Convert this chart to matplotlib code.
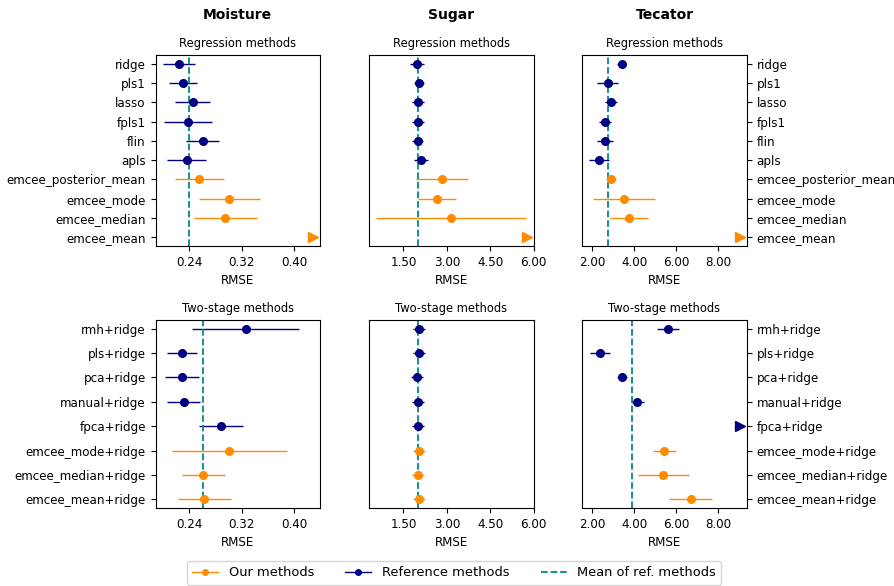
import numpy as np
import matplotlib
matplotlib.use("Agg")
import matplotlib.pyplot as plt
from matplotlib.lines import Line2D

# method names, top to bottom
reg_methods = ["ridge", "pls1", "lasso", "fpls1", "flin", "apls",
               "emcee_posterior_mean", "emcee_mode", "emcee_median", "emcee_mean"]
reg_is_ours = [False] * 6 + [True] * 4

two_methods = ["rmh+ridge", "pls+ridge", "pca+ridge", "manual+ridge", "fpca+ridge",
               "emcee_mode+ridge", "emcee_median+ridge", "emcee_mean+ridge"]
two_is_ours = [False] * 5 + [True] * 3

# RMSE (mean, std) per dataset; inf = off the scale
moisture_reg_rmse = [0.2234, 0.2306, 0.2453, 0.2377, 0.2600, 0.2356, 0.2554, 0.3011, 0.2950, np.inf]
moisture_reg_std = [0.0246, 0.0215, 0.0267, 0.0373, 0.0250, 0.0300, 0.0370, 0.0470, 0.0480, 0.0]
sugar_reg_rmse = [1.964, 2.044, 1.998, 1.998, 1.998, 2.090, 2.816, 2.657, 3.141, np.inf]
sugar_reg_std = [0.25, 0.17, 0.21, 0.22, 0.19, 0.24, 0.90, 0.67, 2.59, 0.0]
tecator_reg_rmse = [3.40, 2.73, 2.89, 2.60, 2.60, 2.32, 2.90, 3.51, 3.73, np.inf]
tecator_reg_std = [0.22, 0.49, 0.28, 0.28, 0.36, 0.48, 0.24, 1.49, 0.90, 0.0]

moisture_two_rmse = [0.3260, 0.2284, 0.2284, 0.2309, 0.2883, 0.3010, 0.2613, 0.2629]
moisture_two_std = [0.0820, 0.0230, 0.0260, 0.0250, 0.0340, 0.0880, 0.0325, 0.0410]
sugar_two_rmse = [2.04, 2.04, 1.96, 2.00, 2.00, 2.04, 2.00, 2.04]
sugar_two_std = [0.20, 0.20, 0.20, 0.20, 0.20, 0.20, 0.20, 0.20]
tecator_two_rmse = [5.59, 2.38, 3.40, 4.14, np.inf, 5.43, 5.38, 6.68]
tecator_two_std = [0.51, 0.48, 0.24, 0.30, 0.0, 0.55, 1.20, 1.03]

datasets = ["Moisture", "Sugar", "Tecator"]
xlims = {"Moisture": (0.188, 0.44), "Sugar": (0.32, 6.0), "Tecator": (1.52, 9.35)}
xticks = {"Moisture": [0.24, 0.32, 0.40], "Sugar": [1.5, 3.0, 4.5, 6.0], "Tecator": [2, 4, 6, 8]}

OURS = "darkorange"
REF = "navy"
MEANC = "darkcyan"
FS = 8.6

plt.rcParams["font.size"] = FS


def draw_panel(ax, methods, is_ours, rmse, std, name, title, side):
    rmse = np.asarray(rmse, dtype=float)
    std = np.asarray(std, dtype=float)
    lo, hi = xlims[name]
    y = np.arange(len(methods))
    for i in range(len(methods)):
        c = OURS if is_ours[i] else REF
        if np.isfinite(rmse[i]) and rmse[i] <= hi:
            ax.errorbar(rmse[i], y[i], xerr=std[i], fmt="o", color=c, ms=5.5, lw=1)
        else:
            # off the scale: arrow at the right edge
            ax.plot(hi - 0.04 * (hi - lo), y[i], ">", color=c, ms=6.5, clip_on=False)
    ref = rmse[~np.array(is_ours) & np.isfinite(rmse)]
    ax.axvline(ref.mean(), color=MEANC, ls="--", lw=1.3)
    ax.set_xlim(lo, hi)
    ax.set_xticks(xticks[name])
    ax.xaxis.set_major_formatter(plt.FormatStrFormatter("%.2f"))
    ax.set_yticks(y)
    ax.set_yticklabels(methods)
    ax.invert_yaxis()
    ax.tick_params(labelsize=FS)
    ax.set_xlabel("RMSE", fontsize=FS)
    ax.set_title(title, fontsize=8.3)
    if side == "none":
        ax.tick_params(axis="y", left=False, labelleft=False)
    elif side == "right":
        ax.yaxis.tick_right()


fig = plt.figure(figsize=(8.94, 5.86), dpi=100)
W, H = 894, 586
cols = [155.5, 369.3, 582.3]
width = 164.5
rows = [(55, 246), (320, 508)]

reg_data = [(moisture_reg_rmse, moisture_reg_std), (sugar_reg_rmse, sugar_reg_std),
            (tecator_reg_rmse, tecator_reg_std)]
two_data = [(moisture_two_rmse, moisture_two_std), (sugar_two_rmse, sugar_two_std),
            (tecator_two_rmse, tecator_two_std)]
sides = ["left", "none", "right"]

for j, name in enumerate(datasets):
    for r, (top, bot) in enumerate(rows):
        ax = fig.add_axes([cols[j] / W, 1 - bot / H, width / W, (bot - top) / H])
        if r == 0:
            draw_panel(ax, reg_methods, reg_is_ours, *reg_data[j], name,
                       "Regression methods", sides[j])
        else:
            draw_panel(ax, two_methods, two_is_ours, *two_data[j], name,
                       "Two-stage methods", sides[j])
    fig.text((cols[j] + width / 2) / W, 1 - 15 / H, name, ha="center", va="center",
             fontsize=10, fontweight="bold")

handles = [
    Line2D([], [], color=OURS, marker="o", ms=4, lw=1),
    Line2D([], [], color=REF, marker="o", ms=4, lw=1),
    Line2D([], [], color=MEANC, ls="--", lw=1.3),
]
labels = ["Our methods", "Reference methods", "Mean of ref. methods"]
fig.legend(handles, labels, loc="center", bbox_to_anchor=(454 / W, 1 - 573 / H),
           ncol=3, fontsize=9.4, handlelength=2, columnspacing=2.4, borderaxespad=0)

fig.savefig("out.png", dpi=100)
